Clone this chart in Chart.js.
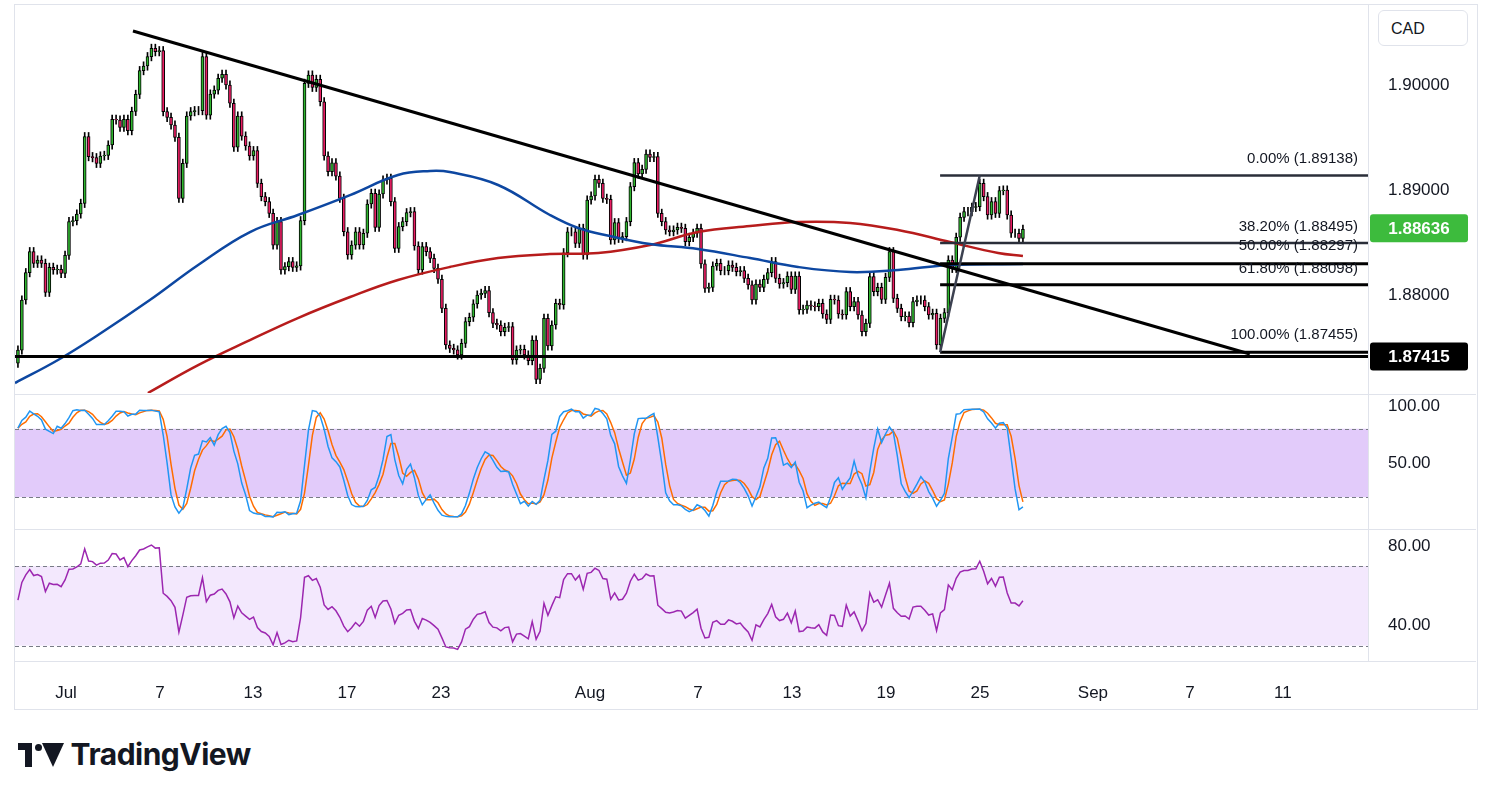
<!DOCTYPE html>
<html>
<head>
<meta charset="utf-8">
<script src="https://cdn.jsdelivr.net/npm/chart.js@4.4.1/dist/chart.umd.min.js"></script>
<style>
  body { margin: 0; background: #fff; font-family: "Liberation Sans", Arial, sans-serif; }
  .pane { position: absolute; left: 15px; width: 1461px; }
  .frame { position: absolute; left: 14px; top: 4px; width: 1462px; height: 704px; border: 1px solid #e0e3eb; }
  .hsep { position: absolute; left: 15px; width: 1461px; height: 1px; background: #e0e3eb; }
  .vsep { position: absolute; left: 1368px; top: 5px; width: 1px; height: 656px; background: #e0e3eb; }
  .cad { position: absolute; left: 1378px; top: 10px; width: 90px; height: 36px; border: 1px solid #e0e3eb; border-radius: 6px;
         font-size: 16px; color: #131722; line-height: 36px; box-sizing: border-box; padding-left: 12px; background: #fff; }
  .logo { position: absolute; left: 18px; top: 736px; font-size: 30px; font-weight: bold; color: #131722; font-family: "Inter", "Liberation Sans", sans-serif; letter-spacing: -0.5px; }
  .logo span { display: inline-block; }
</style>
</head>
<body>
<div class="frame"></div>
<div class="pane" style="top:5px;height:388px"><canvas id="main"></canvas></div>
<div class="pane" style="top:395px;height:133px"><canvas id="stoch"></canvas></div>
<div class="pane" style="top:530px;height:178px"><canvas id="rsi"></canvas></div>
<div class="hsep" style="top:394px"></div>
<div class="hsep" style="top:529px"></div>
<div class="hsep" style="top:661px"></div>
<div class="vsep"></div>
<div class="cad">CAD</div>
<div class="logo"><span style="width:46px;height:24px;position:relative;vertical-align:-2px">
  <span style="position:absolute;left:0;top:0;width:14px;height:7px;background:#131722"></span>
  <span style="position:absolute;left:7px;top:0;width:7px;height:24px;background:#131722"></span>
  <span style="position:absolute;left:17px;top:1px;width:7px;height:7px;border-radius:50%;background:#131722"></span>
  <span style="position:absolute;left:24px;top:0;width:0;height:0;border-left:11px solid transparent;border-right:11px solid transparent;border-bottom:24px solid #131722;transform:scaleY(-1)"></span>
</span> TradingView</div>

<script>
const closes = [
  1.87476, 1.87953, 1.88213, 1.88413, 1.88302, 1.88334, 1.88302, 1.88026, 1.88264, 1.88238,
  1.88245, 1.88206, 1.88378, 1.88699, 1.88708, 1.88772, 1.88873, 1.89508, 1.89318, 1.89308,
  1.89254, 1.89324, 1.89330, 1.89429, 1.89673, 1.89667, 1.89597, 1.89673, 1.89565, 1.89749,
  1.89911, 1.90137, 1.90181, 1.90270, 1.90349, 1.90317, 1.90327, 1.89746, 1.89692, 1.89619,
  1.89502, 1.88921, 1.89254, 1.89705, 1.89746, 1.89756, 1.89756, 1.90270, 1.89714, 1.89914,
  1.89952, 1.90064, 1.90102, 1.90000, 1.89826, 1.89407, 1.89705, 1.89514, 1.89419, 1.89324,
  1.89375, 1.89064, 1.88937, 1.88889, 1.88778, 1.88476, 1.88699, 1.88238, 1.88270, 1.88318,
  1.88264, 1.88277, 1.88708, 1.90016, 1.90095, 1.89978, 1.90054, 1.89841, 1.89324, 1.89175,
  1.89260, 1.89133, 1.88921, 1.88603, 1.88381, 1.88476, 1.88603,
  1.88477, 1.88588, 1.88867, 1.88969, 1.88645, 1.88962, 1.89096, 1.89111, 1.88889, 1.88445,
  1.88651, 1.88699, 1.88784, 1.88794, 1.88467, 1.88238, 1.88461, 1.88413, 1.88349, 1.88254,
  1.88150, 1.87873, 1.87524, 1.87492, 1.87477, 1.87429, 1.87540, 1.87746, 1.87788, 1.87915,
  1.88000, 1.88016, 1.88042, 1.87832, 1.87730, 1.87715, 1.87651, 1.87692, 1.87699, 1.87381,
  1.87476, 1.87483, 1.87429, 1.87375, 1.87572, 1.87197, 1.87302, 1.87778, 1.87515, 1.87715,
  1.87921, 1.87905, 1.88403, 1.88603, 1.88603, 1.88492, 1.88635, 1.88381, 1.88905, 1.88943,
  1.89102, 1.89064, 1.88921, 1.88911, 1.88524, 1.88689, 1.88540, 1.88556, 1.88699, 1.89032,
  1.89261, 1.89153, 1.89197, 1.89343, 1.89311, 1.89318, 1.88778, 1.88699, 1.88619, 1.88603,
  1.88619, 1.88645, 1.88635, 1.88508, 1.88549, 1.88588, 1.88635,
  1.88296, 1.88064, 1.88073, 1.88276, 1.88302, 1.88232, 1.88232, 1.88286, 1.88264, 1.88222,
  1.88232, 1.88159, 1.88096, 1.87953, 1.88105, 1.88073, 1.88149, 1.88213, 1.88318, 1.88159,
  1.88105, 1.88118, 1.88181, 1.88054, 1.88181, 1.87857, 1.87864, 1.87905, 1.87895, 1.87889,
  1.87921, 1.87819, 1.87768, 1.87959, 1.87953, 1.87819, 1.87810, 1.88032, 1.87889, 1.87937,
  1.87810, 1.87651, 1.87730, 1.88175, 1.88032, 1.88073, 1.87959, 1.88168, 1.88413, 1.87968,
  1.87873, 1.87794, 1.87800, 1.87737, 1.87937, 1.87953, 1.87953, 1.87889, 1.87810, 1.87826,
  1.87524, 1.87778, 1.87832, 1.88334, 1.88254, 1.88550, 1.88740, 1.88794, 1.88794, 1.88835,
  1.88842, 1.89064, 1.88937, 1.88762, 1.88889, 1.88778, 1.88994, 1.89000, 1.88762, 1.88588,
  1.88588, 1.88540, 1.88626
];

// moving averages (x = candle index)
const maBlue = [[-0.75,1.87162],[10.2,1.87381],[20.4,1.87619],[33.6,1.87952],[45.9,1.88286],[59.1,1.88600],[71.3,1.88762],[84.6,1.88952],[96.8,1.89143],[105,1.89181],[110,1.89171],[122.3,1.89048],[135.5,1.88762],[142.7,1.88638],[150.8,1.88562],[161,1.88486],[173.2,1.88438],[186.5,1.88352],[198.7,1.88267],[212,1.88219],[224.2,1.88238],[237.4,1.88286],[256,1.88295]];
const maRed = [[33.1,1.87067],[45.9,1.87333],[59.1,1.87571],[71.3,1.87781],[84.6,1.87981],[96.8,1.88143],[110,1.88267],[122.3,1.88352],[135.5,1.88390],[147.8,1.88400],[161,1.88476],[173.2,1.88600],[186.5,1.88657],[198.7,1.88695],[212,1.88686],[224.2,1.88619],[237.4,1.88505],[249.7,1.88400],[256,1.88371]];

const fibs = [
  { lvl: '0.00%', price: 1.89138, color: '#2a2e39', textY: 163 },
  { lvl: '38.20%', price: 1.88495, color: '#2a2e39', textY: 231 },
  { lvl: '50.00%', price: 1.88297, color: '#000', textY: 250 },
  { lvl: '61.80%', price: 1.88098, color: '#000', textY: 273 },
  { lvl: '100.00%', price: 1.87455, color: '#000', textY: 339 }
];

const tickLabels = { 12.24: 'Jul', 36.18: '7', 59.87: '13', 83.81: '17', 107.76: '23', 145.71: 'Aug', 173.21: '7', 197.16: '13', 221.1: '19', 245.05: '25', 273.83: 'Sep', 298.54: '7', 322.23: '11' };

let opens = [1.8735], highs = [], lows = [];
closes.forEach((c, i) => {
  if (i > 0) opens.push(closes[i - 1]);
  highs.push(Math.max(opens[i], c) + 0.0004);
  lows.push(Math.min(opens[i], c) - 0.0004);
});

// stochastic 14,3,3 and rsi 14 from the candles
const rawK = closes.map((c, i) => {
  const s = Math.max(0, i - 13);
  const hh = Math.max(...highs.slice(s, i + 1)), ll = Math.min(...lows.slice(s, i + 1));
  return hh === ll ? 50 : (c - ll) / (hh - ll) * 100;
});
const sma3 = arr => arr.map((v, i) => { const a = arr.slice(Math.max(0, i - 2), i + 1); return a.reduce((p, q) => p + q, 0) / a.length; });
const stochK = sma3(rawK), stochD = sma3(stochK);
let ag = 0.0008, al = 0.0008;
const rsi = closes.map((c, i) => {
  const ch = c - opens[i];
  ag = (ag * 13 + Math.max(ch, 0)) / 14;
  al = (al * 13 + Math.max(-ch, 0)) / 14;
  return 100 - 100 / (1 + ag / al);
});

const X_MIN = -0.75, X_MAX = 343.9;
const xScale = (show) => ({
  type: 'linear', min: X_MIN, max: X_MAX, display: show, offset: false,
  grid: { display: false }, border: { display: false },
  afterBuildTicks: s => { s.ticks = Object.keys(tickLabels).map(v => ({ value: +v })); },
  afterFit: s => { if (show) s.height = 47; s.paddingLeft = 0; s.paddingRight = 0; },
  ticks: { autoSkip: false, maxRotation: 0, padding: 14, color: '#131722', font: { size: 17 },
           callback: v => tickLabels[v] || '' }
});
const yScale = (min, max, vals, fmt) => ({
  position: 'right', min: min, max: max,
  grid: { display: false, drawTicks: false }, border: { display: false },
  afterFit: s => { s.width = 108; s.paddingTop = 0; s.paddingBottom = 0; },
  afterBuildTicks: s => { s.ticks = vals.map(v => ({ value: v })); },
  ticks: { padding: 20, color: '#131722', font: { size: 17 }, callback: v => v.toFixed(fmt) }
});
const baseOpts = { animation: false, responsive: true, maintainAspectRatio: false, layout: { padding: 0, autoPadding: false },
  plugins: { legend: { display: false }, tooltip: { enabled: false } } };

const mainOverlay = {
  id: 'mainOverlay',
  afterDraw(chart) {
    const ctx = chart.ctx, y = chart.scales.y, ca = chart.chartArea;
    ctx.save();
    ctx.font = '15px "Liberation Sans", Arial';
    ctx.fillStyle = '#131722';
    ctx.textAlign = 'right';
    fibs.forEach(f => ctx.fillText(f.lvl + ' (' + f.price + ')', ca.right - 10, f.textY - 5));
    const badge = (price, bg, txt) => {
      const py = y.getPixelForValue(price);
      ctx.fillStyle = bg;
      ctx.beginPath(); ctx.roundRect(ca.right + 2, py - 14, 98, 28, 3); ctx.fill();
      ctx.fillStyle = '#fff'; ctx.font = 'bold 17px "Liberation Sans", Arial'; ctx.textAlign = 'center'; ctx.textBaseline = 'middle';
      ctx.fillText(txt, ca.right + 51, py + 1);
    };
    badge(1.88636, '#3dbb3d', '1.88636');
    badge(1.87415, '#000', '1.87415');
    ctx.restore();
  }
};

const bandPlugin = (lo, hi, color) => ({
  id: 'band',
  beforeDatasetsDraw(chart) {
    const ctx = chart.ctx, y = chart.scales.y, ca = chart.chartArea;
    const top = y.getPixelForValue(hi), bot = y.getPixelForValue(lo);
    ctx.save();
    ctx.fillStyle = color;
    ctx.fillRect(ca.left, top, ca.right - ca.left, bot - top);
    ctx.strokeStyle = '#787b86'; ctx.lineWidth = 1; ctx.setLineDash([4, 3]);
    [top, bot].forEach(py => { ctx.beginPath(); ctx.moveTo(ca.left, Math.round(py) + 0.5); ctx.lineTo(ca.right, Math.round(py) + 0.5); ctx.stroke(); });
    ctx.restore();
  }
});

const seg = (pts, color, width) => ({ type: 'line', data: pts.map(p => ({ x: p[0], y: p[1] })), borderColor: color, borderWidth: width, pointRadius: 0, order: 0 });

new Chart(document.getElementById('main'), {
  data: {
    datasets: [
      { type: 'bar', data: closes.map((c, i) => ({ x: i, y: [lows[i], highs[i]] })), backgroundColor: '#000', barThickness: 1, grouped: false, order: 3 },
      { type: 'bar', data: closes.map((c, i) => ({ x: i, y: [opens[i], c] })),
        backgroundColor: closes.map((c, i) => c >= opens[i] ? '#2fb52f' : '#e91e63'),
        borderColor: '#000', borderWidth: 1, borderSkipped: false, barThickness: 3, grouped: false, order: 2 },
      { type: 'line', data: maBlue.map(p => ({ x: p[0], y: p[1] })), borderColor: '#0d47a1', borderWidth: 2.5, pointRadius: 0, tension: 0.4, order: 1 },
      { type: 'line', data: maRed.map(p => ({ x: p[0], y: p[1] })), borderColor: '#b71c1c', borderWidth: 2.5, pointRadius: 0, tension: 0.4, order: 1 },
      seg([[-0.75, 1.87415], [X_MAX, 1.87415]], '#000', 3),
      seg([[29.3, 1.90514], [313.8, 1.87438]], '#000', 3),
      seg([[234.9, 1.87455], [245, 1.89138]], '#3c4150', 2.5),
      ...fibs.map(f => seg([[234.9, f.price], [X_MAX, f.price]], f.color, f.price === 1.89138 || f.price === 1.88495 ? 2.5 : 3))
    ]
  },
  options: { ...baseOpts, scales: { x: xScale(false), y: yScale(1.87067, 1.90762, [1.88, 1.89, 1.90], 5) } },
  plugins: [mainOverlay]
});

new Chart(document.getElementById('stoch'), {
  data: {
    datasets: [
      { type: 'line', data: stochK.map((v, i) => ({ x: i, y: v })), borderColor: '#2196f3', borderWidth: 1.5, pointRadius: 0 },
      { type: 'line', data: stochD.map((v, i) => ({ x: i, y: v })), borderColor: '#ff6d00', borderWidth: 1.5, pointRadius: 0 }
    ]
  },
  options: { ...baseOpts, scales: { x: xScale(false), y: yScale(-7, 109.6, [50, 100], 2) } },
  plugins: [bandPlugin(20, 80, 'rgba(190, 140, 245, 0.45)')]
});

new Chart(document.getElementById('rsi'), {
  data: {
    datasets: [
      { type: 'line', data: rsi.map((v, i) => ({ x: i, y: v })), borderColor: '#9c27b0', borderWidth: 1.5, pointRadius: 0 }
    ]
  },
  options: { ...baseOpts, scales: { x: xScale(true), y: yScale(22.3, 88.1, [40, 80], 2) } },
  plugins: [bandPlugin(30, 70, 'rgba(200, 150, 245, 0.22)')]
});
</script>
</body>
</html>
